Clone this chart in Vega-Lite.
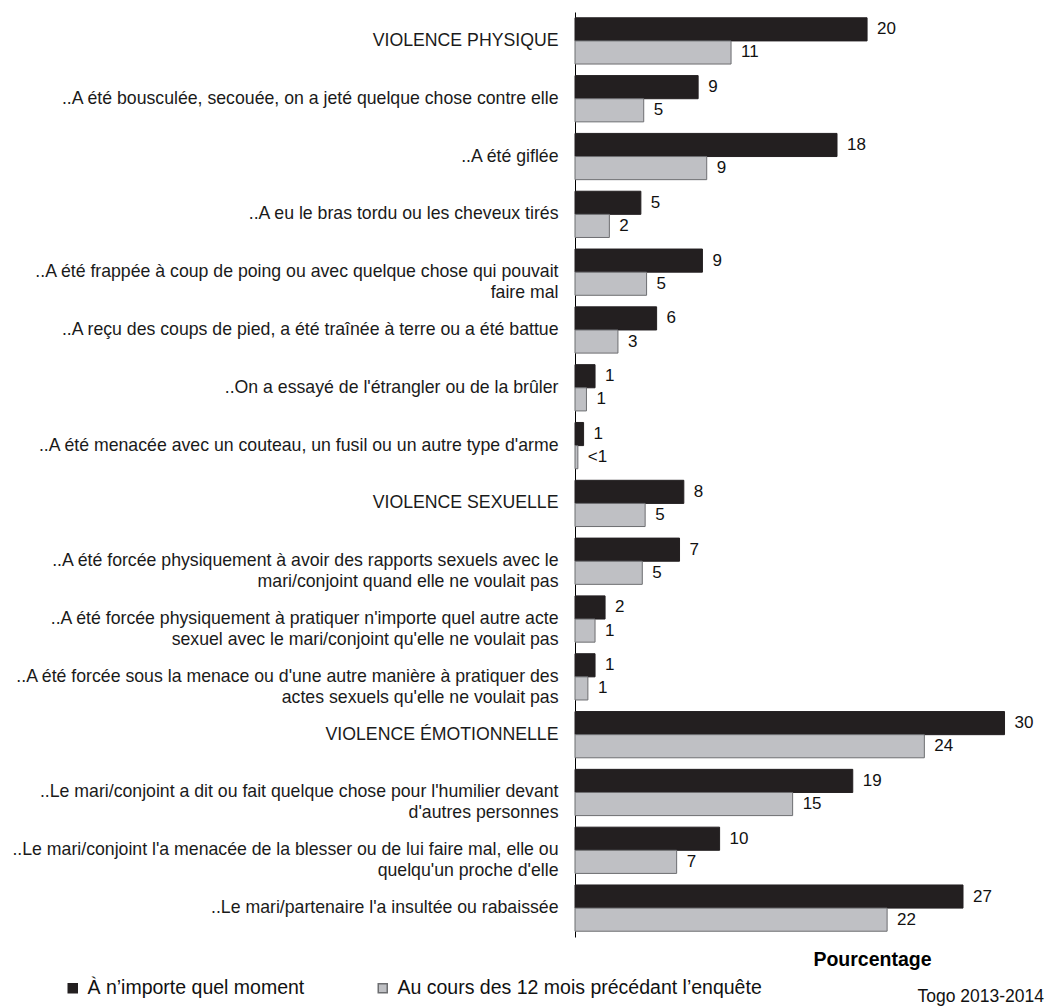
{
  "$schema": "https://vega.github.io/schema/vega-lite/v6.json",
  "autosize": {"type": "none"},
  "padding": {"left": 575, "top": 12, "right": 21, "bottom": 70},
  "width": 451,
  "height": 925,
  "background": "white",
  "config": {
    "view": {"stroke": null},
    "font": "Liberation Sans"
  },
  "title": {
    "text": "Togo 2013-2014",
    "orient": "bottom",
    "anchor": "end",
    "frame": "group",
    "fontSize": 17.5,
    "fontWeight": "normal",
    "color": "#111111",
    "font": "Liberation Sans",
    "baseline": "top",
    "dx": 18,
    "dy": -24,
    "offset": 14
  },
  "data": {
    "values": [
      {"cat": "VIOLENCE PHYSIQUE", "series": "À n’importe quel moment", "value": 20.4, "label": "20"},
      {"cat": "VIOLENCE PHYSIQUE", "series": "Au cours des 12 mois précédant l’enquête", "value": 10.9, "label": "11"},
      {"cat": "..A été bousculée, secouée, on a jeté quelque chose contre elle", "series": "À n’importe quel moment", "value": 8.6, "label": "9"},
      {"cat": "..A été bousculée, secouée, on a jeté quelque chose contre elle", "series": "Au cours des 12 mois précédant l’enquête", "value": 4.8, "label": "5"},
      {"cat": "..A été giflée", "series": "À n’importe quel moment", "value": 18.3, "label": "18"},
      {"cat": "..A été giflée", "series": "Au cours des 12 mois précédant l’enquête", "value": 9.2, "label": "9"},
      {"cat": "..A eu le bras tordu ou les cheveux tirés", "series": "À n’importe quel moment", "value": 4.6, "label": "5"},
      {"cat": "..A eu le bras tordu ou les cheveux tirés", "series": "Au cours des 12 mois précédant l’enquête", "value": 2.4, "label": "2"},
      {"cat": "..A été frappée à coup de poing ou avec quelque chose qui pouvait\nfaire mal", "series": "À n’importe quel moment", "value": 8.9, "label": "9"},
      {"cat": "..A été frappée à coup de poing ou avec quelque chose qui pouvait\nfaire mal", "series": "Au cours des 12 mois précédant l’enquête", "value": 5.0, "label": "5"},
      {"cat": "..A reçu des coups de pied, a été traînée à terre ou a été battue", "series": "À n’importe quel moment", "value": 5.7, "label": "6"},
      {"cat": "..A reçu des coups de pied, a été traînée à terre ou a été battue", "series": "Au cours des 12 mois précédant l’enquête", "value": 3.0, "label": "3"},
      {"cat": "..On a essayé de l'étrangler ou de la brûler", "series": "À n’importe quel moment", "value": 1.4, "label": "1"},
      {"cat": "..On a essayé de l'étrangler ou de la brûler", "series": "Au cours des 12 mois précédant l’enquête", "value": 0.8, "label": "1"},
      {"cat": "..A été menacée avec un couteau, un fusil ou un autre type d'arme", "series": "À n’importe quel moment", "value": 0.6, "label": "1"},
      {"cat": "..A été menacée avec un couteau, un fusil ou un autre type d'arme", "series": "Au cours des 12 mois précédant l’enquête", "value": 0.2, "label": "<1"},
      {"cat": "VIOLENCE SEXUELLE", "series": "À n’importe quel moment", "value": 7.6, "label": "8"},
      {"cat": "VIOLENCE SEXUELLE", "series": "Au cours des 12 mois précédant l’enquête", "value": 4.9, "label": "5"},
      {"cat": "..A été forcée physiquement à avoir des rapports sexuels avec le\nmari/conjoint quand elle ne voulait pas", "series": "À n’importe quel moment", "value": 7.3, "label": "7"},
      {"cat": "..A été forcée physiquement à avoir des rapports sexuels avec le\nmari/conjoint quand elle ne voulait pas", "series": "Au cours des 12 mois précédant l’enquête", "value": 4.7, "label": "5"},
      {"cat": "..A été forcée physiquement à pratiquer n'importe quel autre acte\nsexuel avec le mari/conjoint qu'elle ne voulait pas", "series": "À n’importe quel moment", "value": 2.1, "label": "2"},
      {"cat": "..A été forcée physiquement à pratiquer n'importe quel autre acte\nsexuel avec le mari/conjoint qu'elle ne voulait pas", "series": "Au cours des 12 mois précédant l’enquête", "value": 1.4, "label": "1"},
      {"cat": "..A été forcée sous la menace ou d'une autre manière à pratiquer des\nactes sexuels qu'elle ne voulait pas", "series": "À n’importe quel moment", "value": 1.4, "label": "1"},
      {"cat": "..A été forcée sous la menace ou d'une autre manière à pratiquer des\nactes sexuels qu'elle ne voulait pas", "series": "Au cours des 12 mois précédant l’enquête", "value": 0.9, "label": "1"},
      {"cat": "VIOLENCE ÉMOTIONNELLE", "series": "À n’importe quel moment", "value": 30.0, "label": "30"},
      {"cat": "VIOLENCE ÉMOTIONNELLE", "series": "Au cours des 12 mois précédant l’enquête", "value": 24.4, "label": "24"},
      {"cat": "..Le mari/conjoint a dit ou fait quelque chose pour l'humilier devant\nd'autres personnes", "series": "À n’importe quel moment", "value": 19.4, "label": "19"},
      {"cat": "..Le mari/conjoint a dit ou fait quelque chose pour l'humilier devant\nd'autres personnes", "series": "Au cours des 12 mois précédant l’enquête", "value": 15.2, "label": "15"},
      {"cat": "..Le mari/conjoint l'a menacée de la blesser ou de lui faire mal, elle ou\nquelqu'un proche d'elle", "series": "À n’importe quel moment", "value": 10.1, "label": "10"},
      {"cat": "..Le mari/conjoint l'a menacée de la blesser ou de lui faire mal, elle ou\nquelqu'un proche d'elle", "series": "Au cours des 12 mois précédant l’enquête", "value": 7.1, "label": "7"},
      {"cat": "..Le mari/partenaire l'a insultée ou rabaissée", "series": "À n’importe quel moment", "value": 27.1, "label": "27"},
      {"cat": "..Le mari/partenaire l'a insultée ou rabaissée", "series": "Au cours des 12 mois précédant l’enquête", "value": 21.8, "label": "22"}
    ]
  },
  "encoding": {
    "y": {
      "field": "cat",
      "type": "nominal",
      "sort": null,
      "scale": {"paddingInner": 0.2, "paddingOuter": 0.1},
      "axis": {
        "title": null,
        "ticks": false,
        "tickSize": 0,
        "domain": true,
        "domainColor": "#000000",
        "domainWidth": 1,
        "labelPadding": 17,
        "labelFontSize": 17.7,
        "labelColor": "#1a1a1a",
        "labelLimit": 0,
        "labelLineHeight": 21,
        "labelExpr": "split(datum.label, '\\n')"
      }
    },
    "yOffset": {
      "field": "series",
      "type": "nominal",
      "scale": {"domain": ["À n’importe quel moment", "Au cours des 12 mois précédant l’enquête"], "paddingInner": 0}
    },
    "x": {
      "field": "value",
      "type": "quantitative",
      "scale": {"domain": [0, 31.5], "nice": false},
      "axis": {
        "domain": false,
        "ticks": false,
        "labels": false,
        "grid": false,
        "title": "Pourcentage",
        "titleFontSize": 19.5,
        "titleFontWeight": "bold",
        "titleColor": "#000000",
        "titleX": 297,
        "titleAlign": "center",
        "titlePadding": 13
      }
    }
  },
  "layer": [
    {
      "mark": {"type": "bar", "strokeWidth": 1},
      "encoding": {
        "fill": {
          "field": "series",
          "type": "nominal",
          "scale": {"domain": ["À n’importe quel moment", "Au cours des 12 mois précédant l’enquête"], "range": ["#231f20", "#bfc0c4"]},
          "legend": {
            "title": null,
            "orient": "none",
            "direction": "horizontal",
            "legendX": -512,
            "legendY": 966,
            "symbolType": "square",
            "symbolSize": 81,
            "labelFontSize": 19.5,
            "labelColor": "#111111",
            "labelOffset": 5,
            "columnPadding": 68,
            "padding": 0,
            "labelLimit": 0
          }
        },
        "stroke": {
          "field": "series",
          "type": "nominal",
          "scale": {"domain": ["À n’importe quel moment", "Au cours des 12 mois précédant l’enquête"], "range": ["#231f20", "#6d6e71"]},
          "legend": {
            "title": null,
            "orient": "none",
            "direction": "horizontal",
            "legendX": -512,
            "legendY": 966,
            "symbolType": "square",
            "symbolSize": 81,
            "labelFontSize": 19.5,
            "labelColor": "#111111",
            "labelOffset": 5,
            "columnPadding": 68,
            "padding": 0,
            "labelLimit": 0
          }
        }
      }
    },
    {
      "mark": {"type": "text", "align": "left", "baseline": "middle", "dx": 10, "fontSize": 17, "color": "#111111"},
      "encoding": {
        "text": {"field": "label"}
      }
    }
  ]
}
